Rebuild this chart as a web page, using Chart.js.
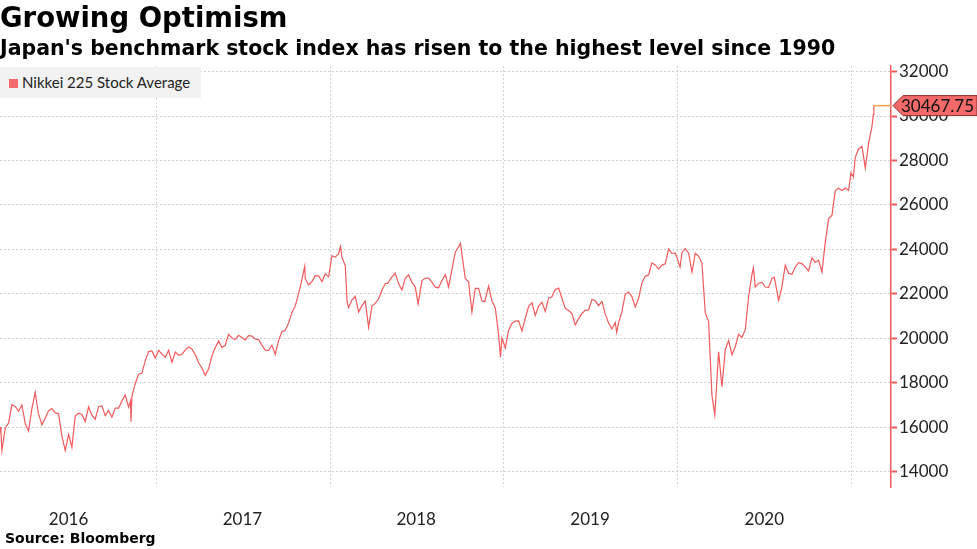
<!DOCTYPE html>
<html>
<head>
<meta charset="utf-8">
<script src="https://cdn.jsdelivr.net/npm/chart.js@4.4.0/dist/chart.umd.min.js"></script>
<style>
  body { margin: 0; width: 977px; height: 549px; overflow: hidden; background: #fff; }
  #wrap { position: absolute; left: 0; top: 0; width: 977px; height: 549px; }
  .t { position: absolute; left: 0; color: #000; font-family: "DejaVu Sans", sans-serif; font-weight: bold; white-space: nowrap; }
  #title { top: 1px; font-size: 27.5px; }
  #sub { top: 36px; font-size: 20.5px; }
  #src { top: 530px; left: 5px; font-size: 14px; }
  #legend { position: absolute; left: 0; top: 67px; width: 201px; height: 31px; background: #f2f2f2;
            font: 15px Lato, sans-serif; color: #222; line-height: 31px; }
  #legend i { position: absolute; left: 9px; top: 12px; width: 9px; height: 9px; background: #f46a6a; }
  #legend span { position: absolute; left: 22px; }
</style>
</head>
<body>
<div id="wrap"><canvas id="c" width="977" height="549"></canvas></div>
<div class="t" id="title">Growing Optimism</div>
<div class="t" id="sub">Japan's benchmark stock index has risen to the highest level since 1990</div>
<div class="t" id="src">Source: Bloomberg</div>
<div id="legend"><i></i><span>Nikkei 225 Stock Average</span></div>
<script>
// weekly-ish closes (MM-DD per year)
const seriesName = "Nikkei 225 Stock Average";

const dates2016 = ["02-08","02-10","02-12","02-19","02-26","03-04","03-11","03-18","03-25","04-01","04-08","04-15","04-22","04-28",
  "05-06","05-13","05-20","05-27","06-03","06-10","06-17","06-24","07-01","07-08","07-15","07-22","07-29","08-05","08-12","08-19",
  "08-26","09-02","09-09","09-16","09-23","09-30","10-07","10-14","10-21","10-28","11-04","11-08","11-09","11-11","11-18","11-25",
  "12-02","12-09","12-16","12-23","12-30"];
const values2016 = [16004,15713,14952,15967,16188,17014,16938,16724,17002,16164,15821,16848,17572,16666,
  16106,16412,16736,16834,16642,16601,15599,14952,15682,15106,16497,16627,16569,16254,16919,16545,
  16360,16925,16965,16519,16754,16450,16860,16856,17184,17446,16905,17171,16251,17374,17968,18381,
  18426,18996,19401,19428,19114];

const dates2017 = ["01-06","01-13","01-20","01-27","02-03","02-10","02-17","02-24","03-03","03-10","03-17","03-24","03-31","04-07",
  "04-14","04-21","04-28","05-02","05-12","05-19","05-26","06-02","06-09","06-16","06-23","06-30","07-07","07-14","07-21","07-28",
  "08-04","08-10","08-18","08-25","09-01","09-08","09-15","09-22","09-29","10-06","10-13","10-20","10-27","11-02","11-09","11-10",
  "11-17","11-24","12-01","12-08","12-15","12-22","12-29"];
const values2017 = [19454,19287,19137,19467,18918,19378,19235,19284,19469,19604,19521,19262,18909,18664,
  18335,18620,19197,19445,19883,19590,19687,20177,20013,19943,20132,20033,19929,20118,20099,19959,
  19952,19729,19470,19452,19691,19274,19909,20296,20356,20690,21155,21457,22008,22539,23250,22681,
  22397,22551,22819,22811,22553,22902,22764];

const dates2018 = ["01-05","01-12","01-19","01-23","01-26","02-02","02-06","02-09","02-16","02-23","03-02","03-09","03-16","03-23",
  "03-30","04-06","04-13","04-20","04-27","05-02","05-11","05-18","05-25","06-01","06-08","06-15","06-22","06-29","07-05","07-13",
  "07-20","07-27","08-03","08-10","08-17","08-24","08-31","09-07","09-14","09-21","09-28","10-02","10-05","10-12","10-19","10-26",
  "11-02","11-09","11-16","11-22","11-30","12-07","12-14","12-21","12-25","12-28"];
const values2018 = [23714,23653,23808,24124,23631,23274,21610,21383,21720,21892,21182,21469,21676,20500,
  21454,21568,21778,22162,22467,22473,22758,22930,22450,22171,22694,22851,22516,22305,21546,22597,
  22698,22712,22525,22298,22270,22601,22865,22307,23094,23870,24120,24270,23784,22694,22532,21184,
  22243,22250,21680,21647,22351,21679,21374,20166,19155,20015];

const dates2019 = ["01-04","01-11","01-18","01-25","02-01","02-08","02-15","02-22","03-01","03-08","03-15","03-22","03-29","04-05",
  "04-12","04-19","04-26","05-10","05-17","05-24","05-31","06-07","06-14","06-21","06-28","07-05","07-12","07-19","07-26","08-02",
  "08-09","08-16","08-23","08-26","08-30","09-06","09-13","09-20","09-27","10-04","10-11","10-18","10-25","11-01","11-08","11-15",
  "11-22","11-29","12-06","12-13","12-20","12-27","12-30"];
const values2019 = [19561,20359,20666,20773,20788,20333,20900,21425,21602,21025,21450,21627,21205,21807,
  21870,22200,22258,21344,21250,21117,20601,20884,21116,21259,21275,21746,21685,21466,21658,21087,
  20684,20418,20710,20261,20704,21199,21988,22079,21878,21410,21798,22492,22799,22851,23391,23303,
  23112,23293,23354,24023,23816,23837,23656];

const dates2020 = ["01-06","01-10","01-17","01-24","01-31","02-07","02-14","02-21","02-28","03-06","03-13","03-19","03-27","04-03",
  "04-10","04-17","04-24","05-01","05-08","05-15","05-22","05-29","06-05","06-08","06-12","06-19","06-26","07-03","07-10","07-17",
  "07-22","07-31","08-07","08-14","08-21","08-28","09-04","09-11","09-18","09-25","10-02","10-09","10-16","10-23","10-30","11-06",
  "11-13","11-20","11-27","12-04","12-11","12-18","12-25","12-30"];
const values2020 = [23205,23850,24041,23827,22977,23828,23688,23387,21142,20750,17431,16552,19389,17820,
  19499,19897,19262,19619,20179,20037,20388,21878,22863,23178,22305,22479,22512,22306,22290,22696,
  22751,21710,22329,23289,22920,22882,23205,23406,23360,23205,23029,23620,23411,23516,22977,24325,
  25385,25527,26644,26751,26652,26763,26656,27444];

const dates2021 = ["01-04","01-08","01-15","01-22","01-29","02-05","02-12","02-15","02-16"];
const values2021 = [27258,28139,28519,28631,27663,28779,29520,30084,30467.75];

const yearLabels = ["2016","2017","2018","2019","2020"];
const yGridTicks = [14000,15000,16000,17000,18000,19000,20000,21000,22000,23000,24000,25000,26000,27000,28000,29000,30000,31000,32000];
const lastLabel = "30467.75";

const RED = "#f25a5c";

function toPoints(year, dates, values) {
  return dates.map((d, i) => {
    const [m, day] = d.split("-").map(Number);
    return { x: Date.UTC(year, m - 1, day), y: values[i] };
  });
}
const points = [].concat(
  toPoints(2016, dates2016, values2016),
  toPoints(2017, dates2017, values2017),
  toPoints(2018, dates2018, values2018),
  toPoints(2019, dates2019, values2019),
  toPoints(2020, dates2020, values2020),
  toPoints(2021, dates2021, values2021)
);

const xMin = Date.UTC(2016, 1, 8), xMax = Date.UTC(2021, 2, 24);
const yearStarts = [2017, 2018, 2019, 2020, 2021].map(y => Date.UTC(y, 0, 1));
const yearMids = yearLabels.map(y => Date.UTC(Number(y), 6, 1));

// last value marker: orange leader + red pennant on the axis
const lastValuePlugin = {
  id: "lastValue",
  afterDraw(chart) {
    const { ctx, chartArea, scales } = chart;
    const last = points[points.length - 1];
    const y = scales.y.getPixelForValue(last.y);
    const x0 = scales.x.getPixelForValue(last.x);
    ctx.save();
    ctx.strokeStyle = "#f2a14a";
    ctx.lineWidth = 1.5;
    ctx.beginPath(); ctx.moveTo(x0, y); ctx.lineTo(chartArea.right, y); ctx.stroke();
    const tip = chartArea.right + 2, h = 10;
    ctx.beginPath();
    ctx.moveTo(tip, y);
    ctx.lineTo(tip + 10, y - h);
    ctx.lineTo(977, y - h);
    ctx.lineTo(977, y + h);
    ctx.lineTo(tip + 10, y + h);
    ctx.closePath();
    ctx.fillStyle = "#f46a6a";
    ctx.fill();
    ctx.strokeStyle = "#8a2a2a";
    ctx.lineWidth = 1;
    ctx.stroke();
    ctx.fillStyle = "#111";
    ctx.font = "17px Lato, sans-serif";
    ctx.textBaseline = "middle";
    ctx.fillText(lastLabel, tip + 8, y + 1);
    ctx.restore();
  }
};

new Chart(document.getElementById("c"), {
  type: "line",
  data: {
    datasets: [{
      label: seriesName,
      data: points,
      borderColor: RED,
      borderWidth: 1.2,
      pointRadius: 0,
      tension: 0,
      xAxisID: "x",
      yAxisID: "y"
    }]
  },
  options: {
    responsive: false,
    animation: false,
    layout: { padding: { top: 66, left: 0, right: 0, bottom: 0 } },
    plugins: { legend: { display: false }, tooltip: { enabled: false } },
    scales: {
      x: {
        type: "linear", min: xMin, max: xMax,
        afterBuildTicks: s => { s.ticks = yearStarts.map(v => ({ value: v })); },
        afterFit: s => { s.height = 0; },
        ticks: { display: false },
        grid: { color: "#d4d4d4", lineWidth: 1, drawTicks: false },
        border: { display: false, dash: [2, 2] }
      },
      xl: {
        type: "linear", position: "bottom", min: xMin, max: xMax,
        afterBuildTicks: s => { s.ticks = yearMids.map(v => ({ value: v })); },
        afterFit: s => { s.height = 62; },
        ticks: {
          autoSkip: false, maxRotation: 0, padding: 22,
          color: "#222", font: { family: "Lato", size: 17 },
          callback: v => String(new Date(v).getUTCFullYear())
        },
        grid: { display: false, drawTicks: false },
        border: { display: false }
      },
      y: {
        type: "linear", position: "right", min: 13310, max: 32250,
        afterBuildTicks: s => { s.ticks = yGridTicks.map(v => ({ value: v })); },
        afterFit: s => { s.width = 86; },
        ticks: {
          padding: 2, color: "#222", font: { family: "Lato", size: 17 },
          callback: v => (v % 2000 === 0 ? String(v) : "")
        },
        grid: {
          color: c => (c.tick && c.tick.value % 2000 === 0 ? "#d0d0d0" : "rgba(0,0,0,0)"),
          tickColor: RED,
          tickLength: 6,
          tickWidth: c => (c.tick && c.tick.value % 2000 === 0 ? 2 : 1)
        },
        border: { color: RED, width: 1.5, dash: [2, 2] }
      }
    }
  },
  plugins: [lastValuePlugin]
});
</script>
</body>
</html>
